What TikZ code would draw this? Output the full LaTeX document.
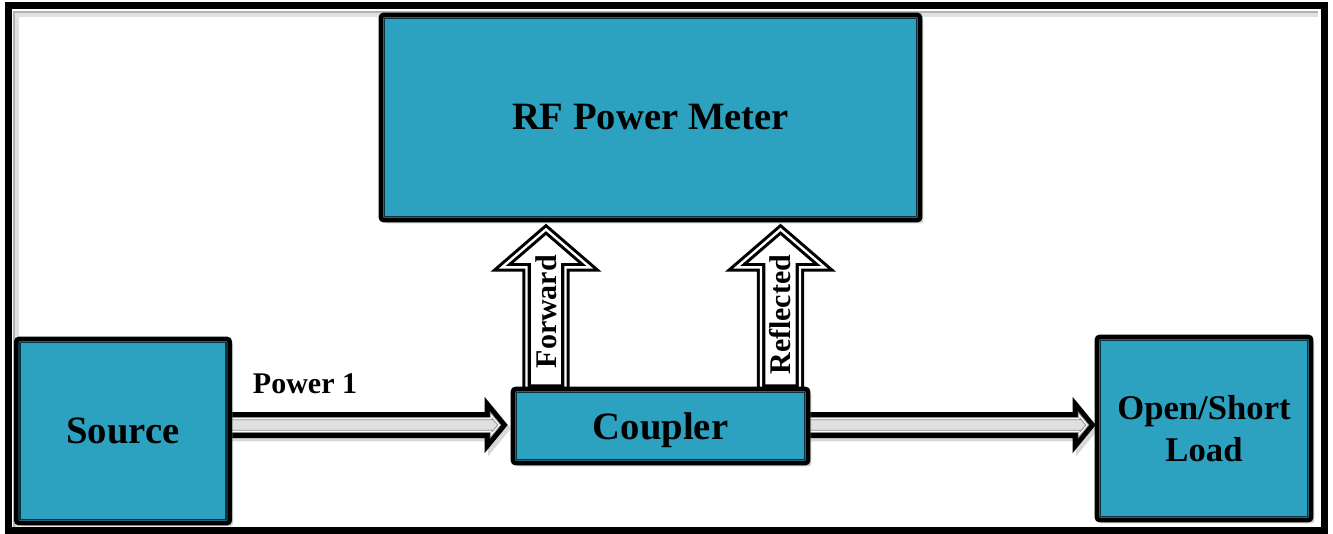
\documentclass[tikz,border=0pt]{standalone}
\usepackage{fontspec}
\setmainfont{Liberation Serif}
\usetikzlibrary{calc,shadows}
\definecolor{tealbox}{RGB}{44,162,192}
\pgfdeclarelayer{back}
\pgfdeclarelayer{arrows}
\pgfsetlayers{back,arrows,main}
% vertical block arrow: #1 base, #2 tip
\newcommand\vpath[2]{let \p1=(#1), \p2=(#2) in
  (\x1-14.6pt,\y1) -- (\x1-14.6pt,\y2-28.5pt) -- (\x1-33pt,\y2-28.5pt) -- (\x1,\y2)
  -- (\x1+33pt,\y2-28.5pt) -- (\x1+14.6pt,\y2-28.5pt) -- (\x1+14.6pt,\y1) -- cycle}
\newcommand\varrow[2]{%
  \fill[white, drop shadow={shadow xshift=2.5pt, shadow yshift=-2.5pt, opacity=0.3}] \vpath{#1}{#2};
  \draw[vline] \vpath{#1}{#2};}
% horizontal polygon: #1 style, #2 start, #3 tip, #4 shaft half, #5 head half, #6 head length, #7 tip back-off
\newcommand\hpoly[7]{%
  \path[#1] let \p1=(#2), \p2=(#3) in
  (\x1,\y1+#4) -- (\x2-#7-#6,\y1+#4) -- (\x2-#7-#6,\y1+#5) -- (\x2-#7,\y1)
  -- (\x2-#7-#6,\y1-#5) -- (\x2-#7-#6,\y1-#4) -- (\x1,\y1-#4) -- cycle;}
\newcommand\harrow[2]{%
  \hpoly{fill=black, drop shadow={shadow xshift=2.5pt, shadow yshift=-2.5pt, opacity=0.3}}{#1}{#2}{9.75pt}{21pt}{17.25pt}{0pt}
  \hpoly{fill=white, draw=black!45, line width=0.6pt}{#1}{#2}{5.6pt}{9.6pt}{7.9pt}{5.2pt}
  \hpoly{fill=black!12, draw=black!45, line width=0.6pt}{#1}{#2}{3.9pt}{5pt}{4.4pt}{7.4pt}}
\begin{document}
\begin{tikzpicture}[x=0.75pt,y=-0.75pt,
  box/.style={draw=black, line width=3.5pt, fill=tealbox, rounded corners=2pt, inner sep=0pt,
    align=center, drop shadow={shadow xshift=2.5pt, shadow yshift=-2.5pt, opacity=0.35}},
  innerline/.style={draw=black!70!tealbox, line width=0.9pt},
  bigtext/.style={font=\bfseries\fontsize{29}{34}\selectfont},
  smalltext/.style={font=\bfseries\fontsize{22.5}{27}\selectfont},
  vline/.style={draw=black, line width=2.3pt, double=white, double distance=1.8pt, line join=miter}]
\useasboundingbox (0,0) rectangle (1333,533);
\begin{pgfonlayer}{back}
  \fill[white] (0,0) rectangle (1333,533);
  \draw[black!12, line width=5pt] (16,527) -- (16,14) -- (1318,14);
  \draw[black!30, line width=1.5pt] (13.5,527) -- (13.5,11.5) -- (1318,11.5);
  \draw[black, line width=5.25pt] (8.5,5.5) rectangle (1324,530);
\end{pgfonlayer}

\node[box, bigtext, minimum width=404.25pt, minimum height=153.75pt] (rf) at (650.5,117.5) {RF Power Meter};
\node[box, bigtext, minimum width=160pt, minimum height=138pt] (src) at (123,431) {Source};
\node[box, bigtext, text depth=0pt, minimum width=221.25pt, minimum height=55.5pt] (cpl) at (660.5,426) {Coupler};
\node[box, font=\bfseries\fontsize{26}{31.5}\selectfont, minimum width=160.5pt, minimum height=137.25pt] (load) at (1204,428.5) {Open/Short\\Load};

\foreach \n in {rf,src,cpl,load}
  \draw[innerline] ([shift={(6,6)}]\n.north west) rectangle ([shift={(-6,-6)}]\n.south east);

\coordinate (fwdbase) at ($(cpl.north)+(-114.5,2)$);
\coordinate (fwdtip) at ($(fwdbase |- rf.south)+(0,7)$);
\coordinate (refbase) at ($(cpl.north)+(120,2)$);
\coordinate (reftip) at ($(refbase |- rf.south)+(0,7)$);
\coordinate (p1start) at ($(src.east |- cpl.west)+(-4,-1)$);
\coordinate (p1tip) at ($(cpl.west)+(-3,-1)$);
\coordinate (p2start) at ($(cpl.east)+(-4,-1)$);
\coordinate (p2tip) at ($(load.west |- cpl.east)+(1,-1)$);

\begin{pgfonlayer}{arrows}
  \varrow{fwdbase}{fwdtip}
  \varrow{refbase}{reftip}
  \harrow{p1start}{p1tip}
  \harrow{p2start}{p2tip}
\end{pgfonlayer}

\node[smalltext, rotate=90] (fwdlabel) at ($(fwdbase)+(0,-77)$) {Forward};
\node[smalltext, rotate=90] (reflabel) at ($(refbase)+(0,-74)$) {Reflected};
\node[smalltext] (p1label) at (305,384) {Power 1};
\end{tikzpicture}
\end{document}
